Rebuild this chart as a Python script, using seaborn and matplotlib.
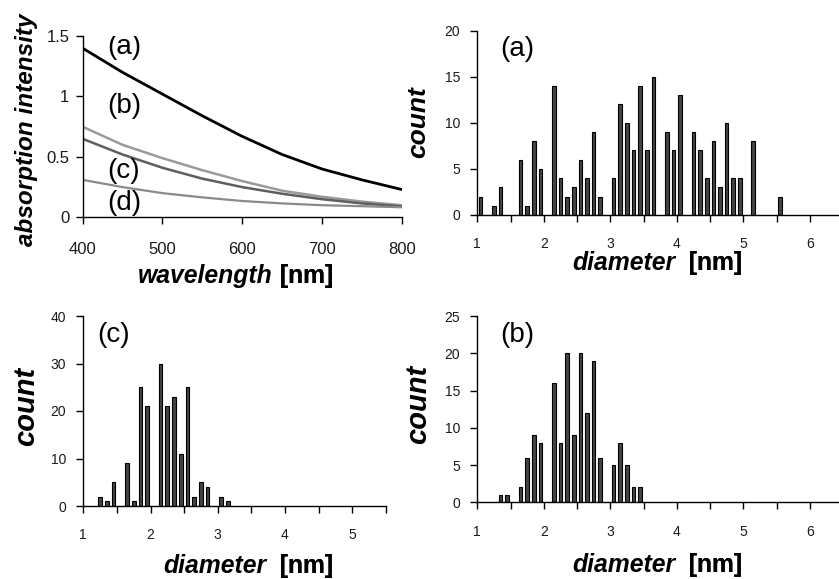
import numpy as np
import pandas as pd
import seaborn as sns
import matplotlib.pyplot as plt

# absorption spectra
wavelength = [400, 450, 500, 550, 600, 650, 700, 750, 800]
absorb_a = [1.40, 1.20, 1.02, 0.84, 0.67, 0.52, 0.40, 0.31, 0.23]
absorb_b = [0.75, 0.60, 0.49, 0.39, 0.30, 0.22, 0.17, 0.13, 0.10]
absorb_c = [0.65, 0.52, 0.41, 0.32, 0.25, 0.195, 0.15, 0.115, 0.09]
absorb_d = [0.31, 0.25, 0.20, 0.165, 0.135, 0.115, 0.10, 0.092, 0.083]

# size histograms (bin centres in nm, counts)
diam_a = [1.05, 1.25, 1.35, 1.65, 1.75, 1.85, 1.95, 2.15, 2.25, 2.35, 2.45, 2.55,
          2.65, 2.75, 2.85, 3.05, 3.15, 3.25, 3.35, 3.45, 3.55, 3.65, 3.85, 3.95,
          4.05, 4.25, 4.35, 4.45, 4.55, 4.65, 4.75, 4.85, 4.95, 5.15, 5.55]
count_a = [2, 1, 3, 6, 1, 8, 5, 14, 4, 2, 3, 6,
           4, 9, 2, 4, 12, 10, 7, 14, 7, 15, 9, 7,
           13, 9, 7, 4, 8, 3, 10, 4, 4, 8, 2]

diam_b = [1.35, 1.45, 1.65, 1.75, 1.85, 1.95, 2.15, 2.25, 2.35, 2.45, 2.55, 2.65,
          2.75, 2.85, 3.05, 3.15, 3.25, 3.35, 3.45]
count_b = [1, 1, 2, 6, 9, 8, 16, 8, 20, 9, 20, 12, 19, 6, 5, 8, 5, 2, 2]

diam_c = [1.25, 1.35, 1.45, 1.65, 1.75, 1.85, 1.95, 2.15, 2.25, 2.35, 2.45, 2.55,
          2.65, 2.75, 2.85, 3.05, 3.15]
count_c = [2, 1, 5, 9, 1, 25, 21, 30, 21, 23, 11, 25, 2, 5, 4, 2, 1]

sns.set_theme(style="ticks")
plt.rcParams["font.family"] = ["Liberation Sans", "DejaVu Sans"]
plt.rcParams["text.color"] = "black"
plt.rcParams["xtick.direction"] = "out"
plt.rcParams["ytick.direction"] = "out"

W, H = 839, 579
fig = plt.figure(figsize=(W / 100, H / 100), dpi=100)


def box(left, top, right, bottom):
    return [left / W, 1 - bottom / H, (right - left) / W, (bottom - top) / H]


def style_axes(ax, tick_size, xpad, ypad):
    sns.despine(ax=ax)
    for s in ["left", "bottom"]:
        ax.spines[s].set_color("black")
        ax.spines[s].set_linewidth(1.0)
    ax.tick_params(axis="both", length=5, width=1.0, color="black",
                   labelsize=tick_size, labelcolor="#1a1a1a")
    ax.tick_params(axis="x", pad=xpad)
    ax.tick_params(axis="y", pad=ypad)
    ax.set_xlabel("")
    ax.set_ylabel("")


def xlabel(text_it, text_rest, x, y, size):
    t = fig.text(x / W, 1 - y / H, text_it, fontsize=size, fontweight="bold",
                 fontstyle="italic", ha="left", va="baseline")
    fig.texts.append(plt.annotate(text_rest, xy=(1, 0), xycoords=t,
                                  fontsize=size, fontweight="bold",
                                  ha="left", va="bottom", annotation_clip=False))


def ylabel(text, x, y, size):
    fig.text(x / W, 1 - y / H, text, fontsize=size, fontweight="bold",
             fontstyle="italic", rotation=90, ha="center", va="center")


# ---- absorption spectra ----
ax1 = fig.add_axes(box(82.5, 36, 401.7, 217.3))
spec = pd.DataFrame({"wl": wavelength, "a": absorb_a, "b": absorb_b,
                     "c": absorb_c, "d": absorb_d})
sns.lineplot(data=spec, x="wl", y="a", ax=ax1, color="black", lw=2.0)
sns.lineplot(data=spec, x="wl", y="b", ax=ax1, color="#9a9a9a", lw=1.8)
sns.lineplot(data=spec, x="wl", y="c", ax=ax1, color="#5e5e5e", lw=1.8)
sns.lineplot(data=spec, x="wl", y="d", ax=ax1, color="#8a8a8a", lw=1.6)
ax1.set_xlim(400, 800)
ax1.set_ylim(0, 1.5)
ax1.set_xticks([400, 500, 600, 700, 800])
ax1.set_yticks([0, 0.5, 1, 1.5])
ax1.set_yticklabels(["0", "0.5", "1", "1.5"])
style_axes(ax1, 12, 13, 4.5)
for lab, yv in [("(a)", 1.41), ("(b)", 0.92), ("(c)", 0.38), ("(d)", 0.12)]:
    ax1.text(452, yv, lab, fontsize=20, ha="center", va="center", clip_on=True)

# ---- histograms ----
def hist_panel(rect, diam, counts, xmax, ymax, ystep, label, lx):
    ax = fig.add_axes(box(*rect))
    df = pd.DataFrame({"d": diam, "n": counts})
    sns.barplot(data=df, x="d", y="n", ax=ax, native_scale=True, orient="x",
                width=0.55, color="#444444", edgecolor="black", linewidth=0.8,
                errorbar=None, saturation=1)
    ax.set_xlim(1, xmax)
    ax.set_ylim(0, ymax)
    ax.set_yticks(np.arange(0, ymax + 1, ystep))
    ticks = np.arange(1, xmax + 0.01, 0.5)
    ax.set_xticks(ticks)
    ax.set_xticklabels([f"{v:g}" if v == int(v) else "" for v in ticks])
    style_axes(ax, 10, 11, 7.5)
    ax.text(lx, 0.9, label, transform=ax.transAxes, fontsize=20,
            ha="center", va="center")
    return ax


hist_panel((477.3, 30.7, 839, 215), diam_a, count_a, 6.44, 20, 5, "(a)", 0.11)
hist_panel((83.3, 316, 385.7, 506), diam_c, count_c, 5.5, 40, 10, "(c)", 0.10)
hist_panel((477.3, 316, 839, 502.3), diam_b, count_b, 6.44, 25, 5, "(b)", 0.11)

# ---- axis titles ----
xlabel("wavelength", " [nm]", 138, 283, 17.8)
ylabel("absorption intensity", 27, 130, 17.5)
xlabel("diameter", "  [nm]", 572, 270, 17.8)
ylabel("count", 418, 122, 19)
xlabel("diameter", "  [nm]", 163, 573, 17.8)
ylabel("count", 26, 406, 21)
xlabel("diameter", "  [nm]", 572, 572, 17.8)
ylabel("count", 418, 404, 21)

fig.savefig("out.png", dpi=100)
